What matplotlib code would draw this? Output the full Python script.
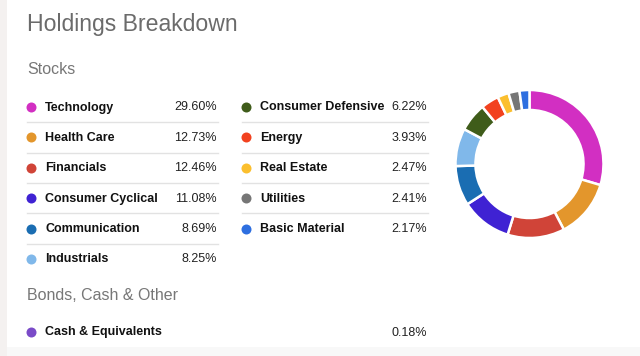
import matplotlib
matplotlib.use("Agg")
import matplotlib.pyplot as plt
from matplotlib.patches import Rectangle

# ---------------- data ----------------
title = "Holdings Breakdown"
section_stocks = "Stocks"
section_other = "Bonds, Cash & Other"

stock_names = ["Technology", "Health Care", "Financials", "Consumer Cyclical",
               "Communication", "Industrials", "Consumer Defensive", "Energy",
               "Real Estate", "Utilities", "Basic Material"]
stock_values = [29.60, 12.73, 12.46, 11.08, 8.69, 8.25, 6.22, 3.93, 2.47, 2.41, 2.17]
stock_colors = ["#D22FC2", "#E3962C", "#D04438", "#3F22D3", "#1A6DB2", "#80B8EA",
                "#3F5C1A", "#F2421F", "#FBBF2E", "#767676", "#2E6FE0"]

other_names = ["Cash & Equivalents"]
other_values = [0.18]
other_colors = ["#7A4BC8"]

# ---------------- figure ----------------
W, H = 640, 356
fig = plt.figure(figsize=(W / 100, H / 100), dpi=100)
fig.patch.set_facecolor("white")
ax = fig.add_axes([0, 0, 1, 1])
ax.set_xlim(0, W)
ax.set_ylim(H, 0)
ax.axis("off")

FONT = "Liberation Sans"

# page decorations
ax.add_patch(Rectangle((0, 0), 7, H, facecolor="#F4F1F0", edgecolor="none"))
ax.add_patch(Rectangle((7, 347), W - 7, H - 347, facecolor="#F8F8F8", edgecolor="none"))

ax.text(27, 25, title, fontsize=16.6, color="#6B6B6B", family=FONT,
        va="center", ha="left")
ax.text(27, 69.5, section_stocks, fontsize=11.5, color="#777777", family=FONT,
        va="center", ha="left")
ax.text(27, 295.5, section_other, fontsize=11.5, color="#777777", family=FONT,
        va="center", ha="left")

# legend rows
row_y0, row_dy = 107.5, 30.4
cols = [dict(dot=31, label=45, pct=217, line=(27, 218)),
        dict(dot=246, label=260, pct=427, line=(242, 428))]
per_col = 6
for i, (name, val, col) in enumerate(zip(stock_names, stock_values, stock_colors)):
    c = cols[0] if i < per_col else cols[1]
    r = i if i < per_col else i - per_col
    y = row_y0 + r * row_dy
    ax.plot(c["dot"], y - 0.5, "o", ms=7.2, color=col, mec="none")
    ax.text(c["label"], y, name, fontsize=9, fontweight="bold", color="#111111",
            family=FONT, va="center", ha="left")
    ax.text(c["pct"], y, f"{val:.2f}%", fontsize=9, color="#222222",
            family=FONT, va="center", ha="right")
    n_in_col = per_col if i < per_col else len(stock_names) - per_col
    if r < n_in_col - 1:
        ly = y + row_dy / 2 - 0.5
        ax.plot(c["line"], [ly, ly], color="#E2E2E2", lw=1)

for name, val, col in zip(other_names, other_values, other_colors):
    y = 332.5
    ax.plot(31, y - 0.5, "o", ms=7.2, color=col, mec="none")
    ax.text(45, y, name, fontsize=9, fontweight="bold", color="#111111",
            family=FONT, va="center", ha="left")
    ax.text(427, y, f"{val:.2f}%", fontsize=9, color="#222222",
            family=FONT, va="center", ha="right")

# donut
cx, cy, R = 529.5, 164, 74
pax = fig.add_axes([(cx - R) / W, (H - cy - R) / H, 2 * R / W, 2 * R / H])
pax.pie(stock_values, colors=stock_colors, startangle=90, counterclock=False,
        radius=1, wedgeprops=dict(width=0.27, edgecolor="white", linewidth=1.8))
pax.set_xlim(-1, 1)
pax.set_ylim(-1, 1)
pax.set_aspect("equal")
pax.axis("off")

fig.savefig("out.png", dpi=100)
